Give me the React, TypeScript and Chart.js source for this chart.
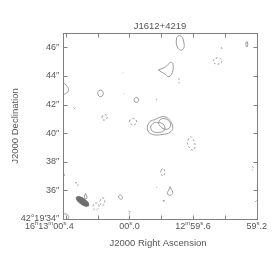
import React, { useEffect, useRef } from 'react';
import { Chart, registerables } from 'chart.js';
Chart.register(...registerables);

// ---- text ----
const chartTitle = 'J1612+4219';
const xAxisTitle = 'J2000 Right Ascension';
const yAxisTitle = 'J2000 Declination';

// ---- axes: RA in seconds relative to 16h13m00s, Dec in arcsec past 42°19' ----
const raMin = -0.8;
const raMax = 0.416;
const decMin = 34;
const decMax = 47;
const raTicks = [0.4, 0.2, 0, -0.2, -0.4, -0.6, -0.8];
const raLabelValues = [0.4, 0, -0.4, -0.8];
const raLabels = ['16^h13^m00^s.4', '00^s.0', '12^m59^s.6', '59^s.2'];
const decTicks = [34, 36, 38, 40, 42, 44, 46];
const decLabels = ['42°19\'34″', '36″', '38″', '40″', '42″', '44″', '46″'];

// ---- contours (RA s, Dec ″) ----
type P = [number, number];
const beam: P[] = [[0.256, 34.92], [0.275, 34.89], [0.305, 35.05], [0.33, 35.31], [0.333, 35.52], [0.314, 35.56], [0.284, 35.4], [0.259, 35.13]];

const coreOuter: P[] = [[-0.113, 40.5], [-0.129, 40.82], [-0.16, 40.95], [-0.186, 41.09], [-0.211, 41.16], [-0.236, 41.09], [-0.255, 40.89], [-0.27, 40.57], [-0.27, 40.26], [-0.248, 40.01], [-0.211, 39.91], [-0.167, 39.87], [-0.129, 39.98], [-0.113, 40.22]];
const coreInnerA: P[] = [[-0.132, 40.43], [-0.148, 40.68], [-0.179, 40.75], [-0.211, 40.64], [-0.223, 40.36], [-0.211, 40.12], [-0.173, 40.05], [-0.142, 40.15]];
const coreInnerB: P[] = [[-0.182, 40.71], [-0.192, 40.95], [-0.217, 41.02], [-0.242, 40.92], [-0.258, 40.64], [-0.252, 40.36], [-0.23, 40.26], [-0.204, 40.36], [-0.189, 40.54]];
const topBlob: P[] = [[-0.297, 46.68], [-0.312, 46.82], [-0.332, 46.7], [-0.343, 46.3], [-0.342, 45.95], [-0.325, 45.8], [-0.305, 45.93], [-0.294, 46.3]];
const topEdge: P[] = [[-0.32, 46.98], [-0.324, 46.92], [-0.328, 46.98]];
const heart: P[] = [[-0.181, 44.42], [-0.213, 44.55], [-0.24, 44.75], [-0.255, 44.95], [-0.272, 44.88], [-0.274, 44.42], [-0.262, 44.07], [-0.244, 43.95], [-0.223, 44.14], [-0.203, 44.25]];
const rightBar: P[] = [[-0.733, 46.37], [-0.742, 46.37], [-0.742, 46.06], [-0.733, 46.06]];
const leftEdge: P[] = [[0.416, 43.51], [0.399, 43.37], [0.384, 43.12], [0.387, 42.88], [0.406, 42.74], [0.416, 42.7]];
const ovalA: P[] = [[0.201, 42.81], [0.192, 42.98], [0.173, 42.98], [0.165, 42.81], [0.17, 42.6], [0.189, 42.56]];
const ovalB: P[] = [[-0.028, 42.32], [-0.038, 42.49], [-0.053, 42.46], [-0.058, 42.28], [-0.05, 42.16], [-0.035, 42.18]];
const dotA: P[] = [[0.039, 44.23], [0.036, 44.19]];
const dotB: P[] = [[0.035, 42.81], [0.033, 42.77]];
const dotC: P[] = [[-0.17, 42.4], [-0.17, 42.3]];
const leftEdge2: P[] = [[0.416, 37.18], [0.406, 37.08], [0.416, 36.97]];
const tearSmall: P[] = [[0.277, 35.78], [0.269, 35.61], [0.267, 35.45], [0.283, 35.45], [0.283, 35.61]];
const ovalC: P[] = [[0.069, 35.61], [0.057, 35.68], [0.043, 35.5], [0.05, 35.38], [0.066, 35.47]];
const dotD: P[] = [[-0.17, 36.25], [-0.172, 36.19]];
const tearRight: P[] = [[-0.255, 36.26], [-0.261, 36.1], [-0.272, 35.89], [-0.264, 35.68], [-0.245, 35.68], [-0.238, 35.85], [-0.248, 36.03], [-0.252, 36.2]];
const cornerBL: P[] = [[0.416, 34.35], [0.396, 34.35], [0.381, 34.17], [0.387, 34.0]];

const negTopDash: P[] = [[-0.576, 46.02], [-0.582, 45.88]];
const negTopOval: P[] = [[-0.525, 45.04], [-0.538, 45.22], [-0.563, 45.25], [-0.58, 45.11], [-0.576, 44.87], [-0.55, 44.83], [-0.532, 44.9]];
const negMid: P[] = [[-0.309, 43.83], [-0.314, 43.7], [-0.309, 43.6], [-0.313, 43.49]];
const negLeft: P[] = [[0.352, 41.79], [0.337, 41.62]];
const negOvalA: P[] = [[0.173, 41.13], [0.16, 41.3], [0.142, 41.23], [0.14, 41.06], [0.154, 40.92], [0.17, 40.95]];
const negOvalB: P[] = [[0, 40.85], [-0.016, 41.02], [-0.038, 40.95], [-0.045, 40.75], [-0.028, 40.57], [-0.006, 40.64]];
const negLong: P[] = [[-0.368, 39.52], [-0.384, 39.75], [-0.399, 39.59], [-0.412, 39.24], [-0.409, 38.89], [-0.393, 38.82], [-0.374, 39.03], [-0.364, 39.31]];
const negLow: P[] = [[-0.198, 37.43], [-0.214, 37.53], [-0.223, 37.29], [-0.217, 37.04], [-0.198, 37.11]];
const negRight: P[] = [[-0.771, 37.7], [-0.78, 37.56], [-0.771, 37.39]];
const negBeamSide: P[] = [[0.343, 36.52], [0.33, 36.54], [0.322, 36.38], [0.333, 36.31]];
const negPairA: P[] = [[0.23, 34.91], [0.217, 35.12], [0.198, 35.08], [0.192, 34.87], [0.204, 34.66], [0.223, 34.66]];
const negPairB: P[] = [[0.186, 35.26], [0.173, 35.47], [0.157, 35.4], [0.157, 35.12], [0.17, 34.91], [0.182, 35.01]];
const negBottom: P[] = [[0.006, 34.56], [-0.009, 34.49], [0.003, 34.38], [-0.013, 34.28]];
const negSmall: P[] = [[-0.211, 35.29], [-0.223, 35.26], [-0.217, 35.19]];
const negRightLow: P[] = [[-0.8, 35.29], [-0.789, 35.19], [-0.8, 35.12]];

const closedPositive = [coreOuter, coreInnerA, coreInnerB, topBlob, heart, rightBar, ovalA, ovalB, tearSmall, ovalC, tearRight];
const openPositive = [topEdge, leftEdge, dotA, dotB, dotC, leftEdge2, dotD, cornerBL];
const closedNegative = [negTopOval, negOvalA, negOvalB, negLong, negLow, negPairA, negPairB, negSmall];
const openNegative = [negTopDash, negMid, negLeft, negRight, negBeamSide, negBottom, negRightLow];

const LINE = '#9a9a9a';
const FRAME = '#808080';
const TEXT = '#555555';
const FONT = '"Liberation Sans", Arial, sans-serif';

function drawRich(ctx: CanvasRenderingContext2D, text: string, x: number, y: number, align: 'left' | 'center' | 'right', size: number) {
  const segs: { t: string; sup: boolean }[] = [];
  for (let i = 0; i < text.length; i++) {
    if (text[i] === '^' && i + 1 < text.length) {
      segs.push({ t: text[i + 1], sup: true });
      i++;
    } else {
      const last = segs[segs.length - 1];
      if (last && !last.sup) last.t += text[i];
      else segs.push({ t: text[i], sup: false });
    }
  }
  const supSize = Math.round(size * 0.68);
  let total = 0;
  const widths = segs.map((s) => {
    ctx.font = `${s.sup ? supSize : size}px ${FONT}`;
    const w = ctx.measureText(s.t).width;
    total += w;
    return w;
  });
  let cx = align === 'left' ? x : align === 'center' ? x - total / 2 : x - total;
  ctx.textAlign = 'left';
  ctx.textBaseline = 'middle';
  segs.forEach((s, i) => {
    ctx.font = `${s.sup ? supSize : size}px ${FONT}`;
    ctx.fillText(s.t, cx, s.sup ? y - size * 0.38 : y);
    cx += widths[i];
  });
}

const framePlugin = {
  id: 'frame',
  afterDraw(chart: any) {
    const { ctx, chartArea } = chart;
    const xs = chart.scales.x;
    const ys = chart.scales.y;
    const l = Math.round(chartArea.left) + 0.5;
    const r = Math.round(chartArea.right) + 0.5;
    const t = Math.round(chartArea.top) + 0.5;
    const b = Math.round(chartArea.bottom) + 0.5;
    ctx.save();
    ctx.strokeStyle = FRAME;
    ctx.lineWidth = 1;
    ctx.strokeRect(l, t, r - l, b - t);
    ctx.beginPath();
    raTicks.forEach((v) => {
      const px = Math.round(xs.getPixelForValue(v)) + 0.5;
      ctx.moveTo(px, b); ctx.lineTo(px, b - 4);
      ctx.moveTo(px, t); ctx.lineTo(px, t + 4);
    });
    decTicks.forEach((v) => {
      const py = Math.round(ys.getPixelForValue(v)) + 0.5;
      ctx.moveTo(l, py); ctx.lineTo(l + 4, py);
      ctx.moveTo(r, py); ctx.lineTo(r - 4, py);
    });
    ctx.stroke();

    ctx.fillStyle = TEXT;
    raLabelValues.forEach((v, i) => {
      const px = xs.getPixelForValue(v);
      if (i === 0) drawRich(ctx, raLabels[i], px + 8, chartArea.bottom + 8, 'right', 9);
      else drawRich(ctx, raLabels[i], px, chartArea.bottom + 8, 'center', 9);
    });
    decTicks.forEach((v, i) => {
      const py = ys.getPixelForValue(v);
      drawRich(ctx, decLabels[i], chartArea.left - 4, py, 'right', 9);
    });
    const cxm = (chartArea.left + chartArea.right) / 2;
    const cym = (chartArea.top + chartArea.bottom) / 2;
    ctx.font = `9.5px ${FONT}`;
    ctx.textAlign = 'center';
    ctx.textBaseline = 'middle';
    ctx.fillText(chartTitle, cxm, chartArea.top - 7);
    ctx.fillText(xAxisTitle, cxm - 2, chartArea.bottom + 24);
    ctx.save();
    ctx.translate(15, cym);
    ctx.rotate(-Math.PI / 2);
    ctx.fillText(yAxisTitle, 0, 0);
    ctx.restore();
    ctx.restore();
  },
};

function toData(pts: P[], close: boolean) {
  const d = pts.map(([x, y]) => ({ x, y }));
  if (close) d.push({ x: pts[0][0], y: pts[0][1] });
  return d;
}

export default function App() {
  const ref = useRef<HTMLCanvasElement>(null);
  useEffect(() => {
    if (!ref.current) return;
    const mk = (pts: P[], close: boolean, neg: boolean) => ({
      data: toData(pts, close),
      showLine: true,
      borderColor: LINE,
      borderWidth: 1,
      pointRadius: 0,
      tension: close ? 0.35 : 0.2,
      borderDash: neg ? [2, 2] : [],
      fill: false,
    });
    const datasets: any[] = [
      ...closedPositive.map((p) => mk(p, true, false)),
      ...openPositive.map((p) => mk(p, false, false)),
      ...closedNegative.map((p) => mk(p, true, true)),
      ...openNegative.map((p) => mk(p, false, true)),
      {
        data: toData(beam, true),
        showLine: true,
        borderColor: '#6e6e6e',
        backgroundColor: '#6e6e6e',
        borderWidth: 1,
        pointRadius: 0,
        tension: 0.4,
        fill: 'shape',
      },
    ];
    const chart = new Chart(ref.current, {
      type: 'scatter',
      data: { datasets },
      options: {
        animation: false,
        responsive: false,
        devicePixelRatio: 1,
        layout: { padding: { left: 63.3, right: 18.3, top: 33, bottom: 44 } },
        scales: {
          x: { type: 'linear', min: raMin, max: raMax, reverse: true, display: false },
          y: { type: 'linear', min: decMin, max: decMax, display: false },
        },
        plugins: { legend: { display: false }, tooltip: { enabled: false } },
      },
      plugins: [framePlugin],
    } as any);
    return () => chart.destroy();
  }, []);
  return (
    <div style={{ position: 'fixed', left: 0, top: 0, width: 275, height: 263, background: '#fff' }}>
      <canvas ref={ref} width={275} height={263} style={{ display: 'block' }} />
    </div>
  );
}
